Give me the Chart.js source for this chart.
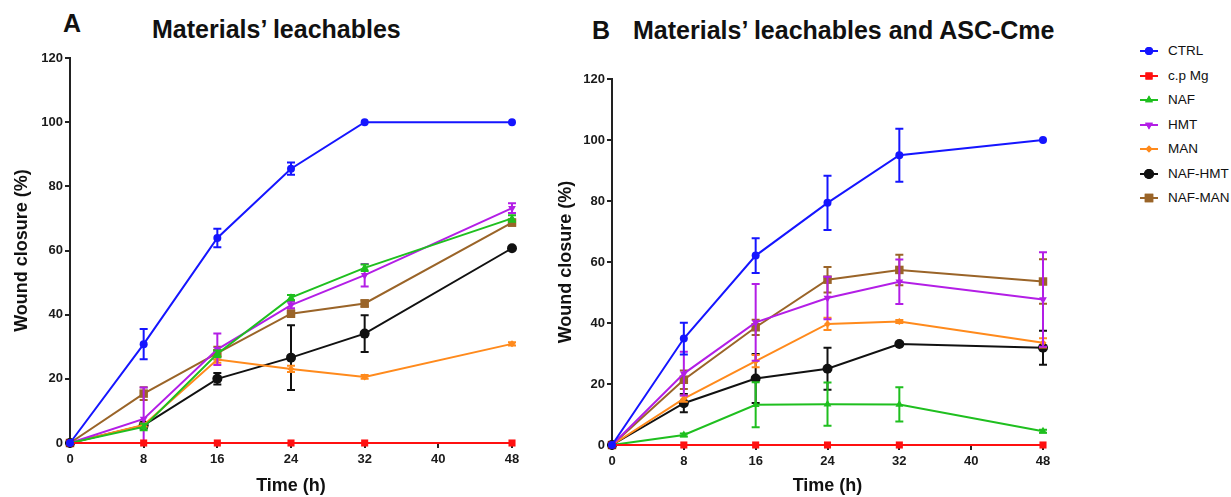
<!DOCTYPE html>
<html><head><meta charset="utf-8">
<script src="https://cdn.jsdelivr.net/npm/chart.js@4.4.1/dist/chart.umd.min.js"></script>
<style>
html,body{margin:0;padding:0;background:#fff;}
body{width:1231px;height:497px;overflow:hidden;position:relative;font-family:"Liberation Sans",Arial,Helvetica,sans-serif;}
canvas.ch{position:absolute;top:0;}
.t{position:absolute;font-weight:bold;font-size:25px;line-height:1;color:#111;white-space:nowrap;}
#legend{position:absolute;left:1140px;top:0;}
.lr{position:absolute;left:0;height:20px;white-space:nowrap;}
.lr canvas{position:absolute;left:0;top:0;}
.lr span{position:absolute;left:28px;top:1px;font-size:13.5px;line-height:18px;color:#111;}
</style>
</head><body>
<div class="t" style="left:63px;top:11px;">A</div>
<div class="t" style="left:152px;top:17px;">Materials’ leachables</div>
<div class="t" style="left:592px;top:18px;">B</div>
<div class="t" style="left:633px;top:18px;">Materials’ leachables and ASC-Cme</div>
<canvas id="ca" class="ch" width="560" height="497" style="left:0px"></canvas>
<canvas id="cb" class="ch" width="570" height="497" style="left:550px"></canvas>
<div id="legend"></div>
<script>
// ---------- data ----------
const timeH = [0, 8, 16, 24, 32, 48];
const xTickValues = [0, 8, 16, 24, 32, 40, 48];
const yTickValues = [0, 20, 40, 60, 80, 100, 120];
const seriesNames = ['CTRL', 'c.p Mg', 'NAF', 'HMT', 'MAN', 'NAF-HMT', 'NAF-MAN'];

// Panel A: Materials' leachables (mean, error)
const a_CTRL      = [0, 30.8, 63.9, 85.5, 100, 100];
const a_CTRL_err  = [0, 4.7, 2.9, 1.9, 0, 0];
const a_cpMg      = [0, 0, 0, 0, 0, 0];
const a_cpMg_err  = [0, 0, 0, 0, 0, 0];
const a_NAF       = [0, 5.0, 27.8, 45.3, 54.6, 70.0];
const a_NAF_err   = [0, 1.0, 1.0, 0.8, 1.0, 1.0];
const a_HMT       = [0, 7.5, 29.2, 43.0, 52.3, 73.2];
const a_HMT_err   = [0, 9.8, 4.9, 1.0, 3.5, 1.5];
const a_MAN       = [0, 5.6, 26.0, 23.1, 20.6, 30.9];
const a_MAN_err   = [0, 0.5, 1.0, 1.0, 0.6, 0.5];
const a_NAFHMT    = [0, 5.5, 20.0, 26.6, 34.1, 60.7];
const a_NAFHMT_err= [0, 1.0, 1.8, 10.1, 5.7, 0.5];
const a_NAFMAN    = [0, 15.4, 28.0, 40.3, 43.5, 68.7];
const a_NAFMAN_err= [0, 2.0, 2.0, 1.0, 1.0, 1.0];

// Panel B: Materials' leachables and ASC-Cme (mean, error)
const b_CTRL      = [0, 34.9, 62.1, 79.4, 95.0, 100];
const b_CTRL_err  = [0, 5.2, 5.7, 8.9, 8.7, 0];
const b_cpMg      = [0, 0, 0, 0, 0, 0];
const b_cpMg_err  = [0, 0, 0, 0, 0, 0];
const b_NAF       = [0, 3.3, 13.2, 13.4, 13.3, 4.5];
const b_NAF_err   = [0, 0.5, 7.4, 7.1, 5.6, 0.5];
const b_HMT       = [0, 23.4, 40.2, 48.2, 53.5, 47.7];
const b_HMT_err   = [0, 7.2, 12.6, 7.0, 7.3, 15.5];
const b_MAN       = [0, 15.2, 27.5, 39.7, 40.5, 33.5];
const b_MAN_err   = [0, 1.0, 2.0, 2.0, 0.5, 1.5];
const b_NAFHMT    = [0, 13.7, 21.8, 25.0, 33.1, 31.9];
const b_NAFHMT_err= [0, 3.0, 8.0, 6.9, 0.5, 5.6];
const b_NAFMAN    = [0, 21.4, 38.6, 54.2, 57.4, 53.6];
const b_NAFMAN_err= [0, 3.0, 2.5, 4.2, 5.0, 7.3];

// ---------- styles ----------
const FONT = '"Liberation Sans", Arial, Helvetica, sans-serif';
const styles = [
  {color:'#1515ff', pointStyle:'circle',   radius:4,   rotation:0},
  {color:'#ff1010', pointStyle:'rect',     radius:5,   rotation:0},
  {color:'#1fbf1f', pointStyle:'triangle', radius:4.5, rotation:0},
  {color:'#b31ee6', pointStyle:'triangle', radius:4.5, rotation:180},
  {color:'#ff8a1c', pointStyle:'rectRot',  radius:3.5, rotation:0},
  {color:'#111111', pointStyle:'circle',   radius:5,   rotation:0},
  {color:'#9a6428', pointStyle:'rect',     radius:6,   rotation:0}
];

function makeDatasets(vals, errs){
  return vals.map((v,i)=>({
    label: seriesNames[i],
    data: timeH.map((t,j)=>({x:t, y:v[j]})),
    err: errs[i],
    borderColor: styles[i].color,
    backgroundColor: styles[i].color,
    pointStyle: styles[i].pointStyle,
    pointRadius: styles[i].radius,
    pointRotation: styles[i].rotation,
    pointBorderWidth: 0,
    pointHoverRadius: styles[i].radius,
    borderWidth: 2,
    tension: 0,
    clip: false
  }));
}

const errPlugin = {
  id:'errbars',
  afterDatasetDraw(chart, args){
    const ds = chart.data.datasets[args.index];
    if(!ds.err) return;
    const xs = chart.scales.x, ys = chart.scales.y, ctx = chart.ctx;
    ctx.save();
    ctx.strokeStyle = ds.borderColor;
    ctx.lineWidth = 2;
    ds.err.forEach((e,j)=>{
      if(!e) return;
      const p = ds.data[j];
      const x = xs.getPixelForValue(p.x);
      const yTop = ys.getPixelForValue(p.y + e);
      const yBot = ys.getPixelForValue(Math.max(0, p.y - e));
      ctx.beginPath();
      ctx.moveTo(x, yTop); ctx.lineTo(x, yBot);
      ctx.moveTo(x-4, yTop); ctx.lineTo(x+4, yTop);
      if (p.y - e > 0){ ctx.moveTo(x-4, yBot); ctx.lineTo(x+4, yBot); }
      ctx.stroke();
    });
    ctx.restore();
  }
};

function makeChart(id, vals, errs, geo){
  const axisColor = '#222';
  return new Chart(document.getElementById(id), {
    type:'line',
    data:{datasets: makeDatasets(vals, errs)},
    options:{
      responsive:false, animation:false, events:[],
      layout:{padding:{left:0, top:geo.top, right:geo.right, bottom:0}},
      plugins:{legend:{display:false}, title:{display:false}, tooltip:{enabled:false}},
      scales:{
        x:{
          type:'linear', min:0, max:48,
          afterBuildTicks(s){ s.ticks = xTickValues.map(v=>({value:v})); },
          afterFit(s){ s.height = geo.xh; },
          border:{color:axisColor, width:2},
          grid:{drawOnChartArea:false, drawTicks:true, tickLength:5, color:axisColor, lineWidth:2},
          ticks:{color:'#1a1a1a', padding:4, font:{family:FONT, size:13, weight:'bold'}, maxRotation:0},
          title:{display:true, text:'Time (h)', color:'#111', padding:{top:1,bottom:0}, font:{family:FONT, size:18, weight:'bold'}}
        },
        y:{
          type:'linear', min:0, max:120,
          afterBuildTicks(s){ s.ticks = yTickValues.map(v=>({value:v})); },
          afterFit(s){ s.width = geo.yw; },
          border:{color:axisColor, width:2},
          grid:{drawOnChartArea:false, drawTicks:true, tickLength:5, color:axisColor, lineWidth:2},
          ticks:{color:'#1a1a1a', padding:2, font:{family:FONT, size:13, weight:'bold'}},
          title:{display:true, text:'Wound closure (%)', color:'#111', padding:{top:geo.ytp,bottom:0}, font:{family:FONT, size:18, weight:'bold'}}
        }
      }
    },
    plugins:[errPlugin]
  });
}

makeChart('ca',
  [a_CTRL,a_cpMg,a_NAF,a_HMT,a_MAN,a_NAFHMT,a_NAFMAN],
  [a_CTRL_err,a_cpMg_err,a_NAF_err,a_HMT_err,a_MAN_err,a_NAFHMT_err,a_NAFMAN_err],
  {top:58, right:48, xh:54, yw:70, ytp:11});
makeChart('cb',
  [b_CTRL,b_cpMg,b_NAF,b_HMT,b_MAN,b_NAFHMT,b_NAFMAN],
  [b_CTRL_err,b_cpMg_err,b_NAF_err,b_HMT_err,b_MAN_err,b_NAFHMT_err,b_NAFMAN_err],
  {top:79, right:77, xh:52, yw:62, ytp:5});

// ---------- legend ----------
const leg = document.getElementById('legend');
seriesNames.forEach((name,i)=>{
  const row = document.createElement('div');
  row.className='lr';
  row.style.top = (41 + i*24.5) + 'px';
  const c = document.createElement('canvas');
  c.width = 22; c.height = 20;
  const ctx = c.getContext('2d');
  ctx.strokeStyle = styles[i].color; ctx.lineWidth = 2;
  ctx.beginPath(); ctx.moveTo(0,10); ctx.lineTo(18,10); ctx.stroke();
  ctx.fillStyle = styles[i].color;
  Chart.helpers.drawPoint(ctx, {pointStyle:styles[i].pointStyle, radius:styles[i].radius, rotation:styles[i].rotation, borderWidth:0}, 9, 10);
  ctx.fill();
  const s = document.createElement('span');
  s.textContent = name;
  row.appendChild(c); row.appendChild(s);
  leg.appendChild(row);
});
</script>
</body></html>
